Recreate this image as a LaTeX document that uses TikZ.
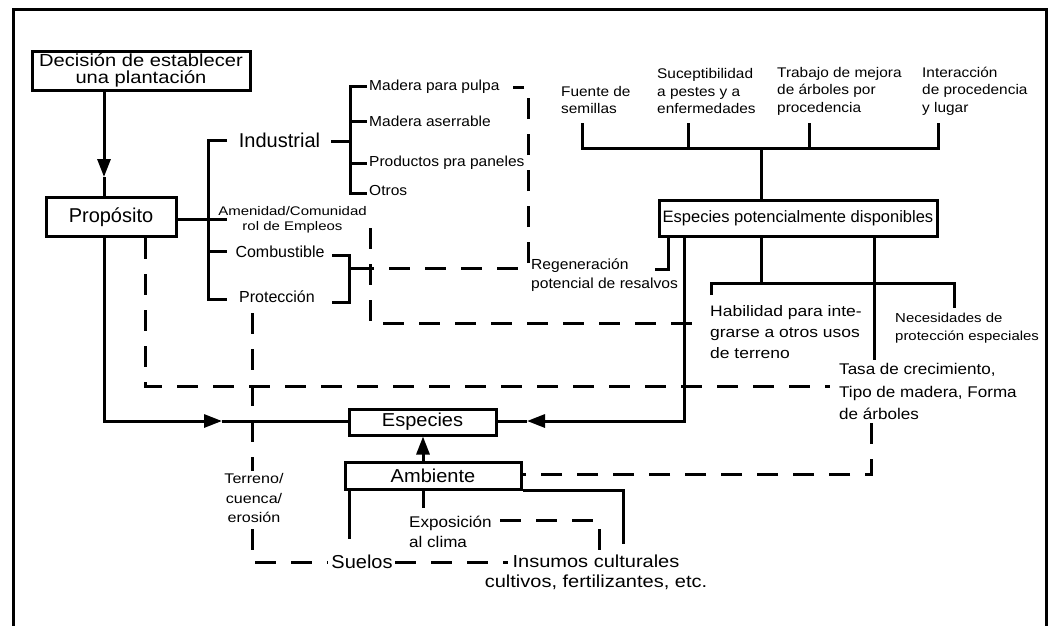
\documentclass[tikz,border=0pt]{standalone}
\usepackage{fontspec}
\setmainfont{Liberation Sans}
\newfontfamily\wA[FakeStretch=1.15]{Liberation Sans}
\newfontfamily\wB[FakeStretch=1.2]{Liberation Sans}
\newfontfamily\wC[FakeStretch=1.07]{Liberation Sans}
\newfontfamily\wD[FakeStretch=1.1]{Liberation Sans}
\usetikzlibrary{arrows.meta}
\newcommand{\fsz}[2]{\fontsize{#1}{#2}\selectfont}
\begin{document}
\begin{tikzpicture}[x=1pt,y=-1pt,
  every node/.style={inner sep=0pt},
  ln/.style={line width=3pt},
  dsh/.style={line width=3pt, dash pattern=on 21pt off 15pt},
  box/.style={draw, line width=3pt, align=center},
  arr/.style={ln,-{Triangle[length=18pt,width=13pt]}},
  tA/.style={font=\fsz{20}{20}, align=center},
  tW/.style={font=\wC\fsz{18.7}{20}, align=center},
  tB/.style={font=\wC\fsz{14.5}{17}, align=left},
  tG/.style={font=\wD\fsz{14}{17.5}, align=left}
]
\useasboundingbox (0,0) rectangle (1053,625);
% frame
\draw[line width=3pt] (13,630) -- (13,9) -- (1046,9) -- (1046,630);

% boxes
\node[box, font=\wA\fsz{17.5}{17.5}, minimum width=218pt, minimum height=39pt] (dec) at (141,70.5) {Decisión de establecer\\una plantación};
\node[box, tA, minimum width=130pt, minimum height=39pt] (prop) at (111,217) {Propósito};
\node[box, tW, minimum width=147pt, minimum height=26pt] (esp) at (422.5,422) {Especies};
\node[box, tW, minimum width=176pt, minimum height=27pt] (amb) at (433,475.5) {Ambiente};
\node[box, font=\fsz{16.5}{18}, minimum width=278pt, minimum height=36pt] (epd) at (798,218) {Especies potencialmente disponibles};

% Decision -> Proposito
\coordinate (a1) at (104,177);
\draw[arr] (dec.south -| a1) -- (a1);
\draw[ln] (a1) -- (prop.north -| a1);

% purpose labels
\node[tA] (ind) at (279.5,140) {Industrial};
\node[font=\wB\fsz{12.5}{15}, align=center] (amen) at (292.5,219.5) {Amenidad/Comunidad\\rol de Empleos};
\node[font=\fsz{16}{16}] (comb) at (280,252) {Combustible};
\node[font=\fsz{16}{16}] (prot) at (277,297) {Protección};
\draw[ln] (prop.east |- 0,219) -- (227,219);
\draw[ln] (227,140) -- (208,140) -- (208,299) -- (227,299);
\draw[ln] (208,251) -- (227,251);

% industrial bracket
\draw[ln] (331,141) -- (350,141);
\draw[ln] (367,86) -- (350,86) -- (350,193) -- (367,193);
\draw[ln] (350,121) -- (367,121);
\draw[ln] (350,163) -- (367,163);
\node[tB, anchor=west] (m1) at (369,87) {Madera para pulpa};
\node[tB, anchor=west] (m2) at (369,121) {Madera aserrable};
\node[tB, anchor=west] (m3) at (369,163) {Productos pra paneles};
\node[tB, anchor=west] (m4) at (369,191) {Otros};

% combustible/proteccion bracket
\draw[ln] (332,255) -- (349,255) -- (349,302) -- (332,302);
\draw[ln] (349,268) -- (374,268);
\draw[dsh, dash phase=21pt] (374,268) -- (528,268) -- (528,87) -- (513,87);
\node[font=\wC\fsz{14.6}{19}, align=left, anchor=west] (reg) at (531,275.5) {Regeneración\\potencial de resalvos};

% dashed from amenidad
\draw[dsh] (370,228) -- (370,323) -- (703,323);
% dashed from proposito
\draw[dsh] (145,238) -- (145,386) -- (830,386);

% Proposito -> Especies
\coordinate (a2) at (222,421);
\draw[arr] (prop.south -| 104,0) -- (104,421) -- (a2);
\draw[ln] (a2) -- (esp.west |- a2);

% top tree
\node[tG, anchor=west] (fue) at (561,100) {Fuente de\\semillas};
\node[tG, anchor=west] (suc) at (657,91) {Suceptibilidad\\a pestes y a\\enfermedades};
\node[tG, anchor=west] (tra) at (777,91) {Trabajo de mejora\\de árboles por\\procedencia};
\node[tG, anchor=west] (int) at (922,91) {Interacción\\de procedencia\\y lugar};
\draw[ln] (582,123) -- (582,148) -- (938,148) -- (938,123);
\draw[ln] (688,123) -- (688,148);
\draw[ln] (809,123) -- (809,148);
\draw[ln] (761,148) -- (epd.north -| 761,0);

% below epd
\draw[ln] (epd.south -| 668,0) -- (668,269) -- (655,269);
\coordinate (a3) at (527,421);
\draw[arr] (epd.south -| 684,0) -- (684,421) -- (a3);
\draw[ln] (a3) -- (esp.east |- a3);
\draw[ln] (epd.south -| 761,0) -- (761,283);
\draw[ln] (711,295) -- (711,283) -- (954,283) -- (954,308);
\draw[ln] (epd.south -| 874,0) -- (874,360);
\node[font=\wA\fsz{15.2}{21}, align=left, anchor=west] (hab) at (710,332) {Habilidad para inte-\\grarse a otros usos\\de terreno};
\node[font=\wA\fsz{13}{18}, align=left, anchor=west] (nec) at (895,328) {Necesidades de\\protección especiales};
\node[font=\wD\fsz{15.5}{22.5}, align=left, anchor=west] (tas) at (839,391.5) {Tasa de crecimiento,\\Tipo de madera, Forma\\de árboles};

% dashed from Tasa to Ambiente
\draw[dsh] (871,423) -- (871,474) -- (amb.east |- 0,474);

% Ambiente -> Especies
\draw[arr] (amb.north -| 423,0) -- (esp.south -| 423,0);

% Ambiente children
\node[tW] (sue) at (362,562) {Suelos};
\node[font=\wD\fsz{15.5}{20}, align=left, anchor=west] (exp) at (409,532) {Exposición\\al clima};
\node[font=\wA\fsz{17.4}{20}, align=center] (ins) at (596,572) {Insumos culturales\\cultivos, fertilizantes, etc.};
\draw[ln] (amb.south -| 349,0) -- (349,539);
\draw[ln] (amb.south -| 423,0) -- (423,508);
\draw[ln] (amb.south east) -- (amb.south east -| 623,0) -- (623,544);
\draw[dsh] (500,520) -- (599,520) -- (599,550);
\draw[dsh] (395,562) -- (508,562);

% dashed from Proteccion to Suelos
\draw[dsh] (252,313) -- (252,562) -- (328,562);
\node[font=\wA\fsz{14}{19.5}, align=center, fill=white, inner sep=2pt] (ter) at (254,498) {Terreno/\\cuenca/\\erosión};
\end{tikzpicture}
\end{document}
